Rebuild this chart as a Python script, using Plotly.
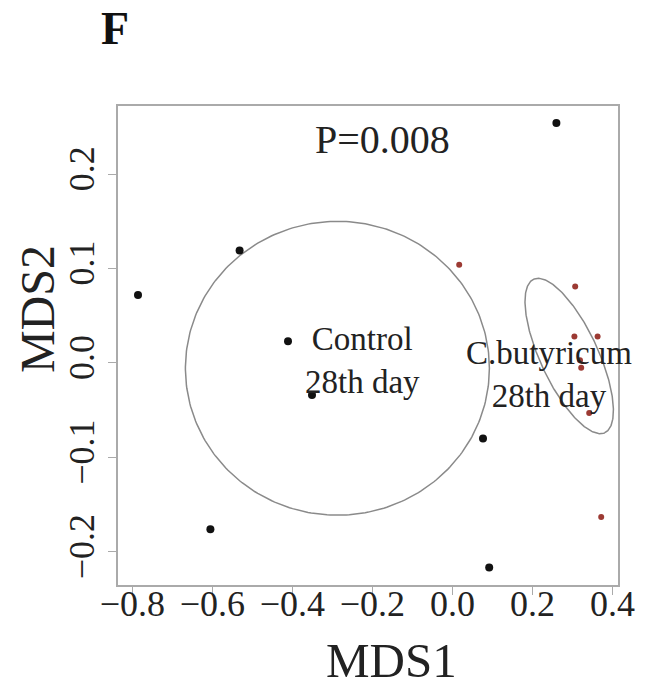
import numpy as np
import plotly.graph_objects as go

# ---- data ----
control_x = [0.260, -0.532, -0.786, -0.411, -0.351, 0.0765, -0.605, 0.092]
control_y = [0.254, 0.119, 0.072, 0.023, -0.034, -0.080, -0.176, -0.2166]
cb_x = [0.017, 0.307, 0.305, 0.363, 0.319, 0.322, 0.342, 0.372]
cb_y = [0.104, 0.081, 0.028, 0.028, 0.003, -0.005, -0.053, -0.163]

x_ticks = [-0.8, -0.6, -0.4, -0.2, 0.0, 0.2, 0.4]
x_labels = ["−0.8", "−0.6", "−0.4", "−0.2", "0.0", "0.2", "0.4"]
y_ticks = [-0.2, -0.1, 0.0, 0.1, 0.2]
y_labels = ["−0.2", "−0.1", "0.0", "0.1", "0.2"]

# ellipse parameters (data units)
ctrl_center = (-0.2875, -0.0056)
ctrl_axes = (0.380, 0.1555)
cb_center = (0.292, 0.0074)
cb_major = (0.089, -0.0812)
cb_minor = (0.0655, 0.0129)

FONT = "Liberation Serif"
t = np.linspace(0, 2 * np.pi, 300)

fig = go.Figure()

fig.add_trace(go.Scatter(
    x=ctrl_center[0] + ctrl_axes[0] * np.cos(t),
    y=ctrl_center[1] + ctrl_axes[1] * np.sin(t),
    mode="lines", line=dict(color="#8a8a8a", width=1.5),
    hoverinfo="skip", showlegend=False))

fig.add_trace(go.Scatter(
    x=cb_center[0] + cb_major[0] * np.cos(t) + cb_minor[0] * np.sin(t),
    y=cb_center[1] + cb_major[1] * np.cos(t) + cb_minor[1] * np.sin(t),
    mode="lines", line=dict(color="#8a8a8a", width=1.5),
    hoverinfo="skip", showlegend=False))

fig.add_trace(go.Scatter(
    x=control_x, y=control_y, mode="markers",
    marker=dict(color="#111111", size=8), showlegend=False, name="Control"))
fig.add_trace(go.Scatter(
    x=cb_x, y=cb_y, mode="markers",
    marker=dict(color="#9c3a33", size=6), showlegend=False, name="C.butyricum"))

C = dict(xanchor="center", yanchor="middle", showarrow=False)
annotations = [
    dict(x=-0.176, y=0.237, xref="x", yref="y", text="P=0.008",
         font=dict(family=FONT, size=40, color="#222"), **C),
    dict(x=-0.226, y=0.003, xref="x", yref="y", text="Control<br>28th day",
         font=dict(family=FONT, size=33, color="#222"), align="center", **C),
    dict(x=0.241, y=-0.0127, xref="x", yref="y", text="C.butyricum<br>28th day",
         font=dict(family=FONT, size=33, color="#222"), align="center", **C),
    dict(x=0.546, y=-0.1566, xref="paper", yref="paper", text="MDS1",
         font=dict(family=FONT, size=49, color="#222"), **C),
    dict(x=-0.162, y=0.576, xref="paper", yref="paper", text="MDS2",
         textangle=-90, font=dict(family=FONT, size=48, color="#222"), **C),
    dict(x=-0.006, y=1.218, xref="paper", yref="paper", text="<b>F</b>",
         font=dict(family=FONT, size=46, color="#111"),
         xanchor="center", yanchor="top", showarrow=False, borderpad=0),
]

fig.update_layout(
    width=649, height=688,
    margin=dict(l=118, r=31, t=106, b=103),
    paper_bgcolor="white", plot_bgcolor="white",
    annotations=annotations,
    xaxis=dict(range=[-0.836, 0.414], tickvals=x_ticks, ticktext=x_labels,
               showgrid=False, zeroline=False, showline=True, linecolor="#aaaaaa", linewidth=2,
               mirror=True, ticks="outside", ticklen=8, tickcolor="#aaaaaa", automargin=False,
               ticklabelstandoff=-22,
               tickfont=dict(family=FONT, size=36, color="#222")),
    yaxis=dict(range=[-0.235, 0.272], tickvals=y_ticks, ticktext=y_labels,
               showgrid=False, zeroline=False, showline=True, linecolor="#aaaaaa", linewidth=2,
               mirror=True, ticks="outside", ticklen=8, tickcolor="#aaaaaa", tickangle=-90,
               automargin=False,
               tickfont=dict(family=FONT, size=36, color="#222")),
)

fig.write_html("out.html", config={"displayModeBar": False},
               post_script="document.body.style.margin='0';")
